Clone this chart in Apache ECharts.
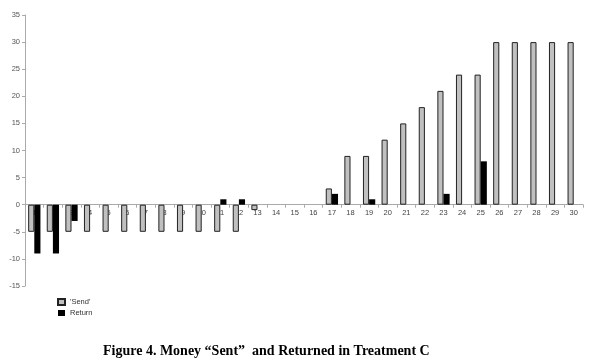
<!DOCTYPE html>
<html><head><meta charset="utf-8">
<script src="https://cdn.jsdelivr.net/npm/echarts@6/dist/echarts.min.js"></script>
<style>html,body{margin:0;padding:0;background:#fff}#c{width:597px;height:363px}</style>
</head><body><div id="c"></div>
<script>
const categories = ['1','2','3','4','5','6','7','8','9','10','11','12','13','14','15','16','17','18','19','20','21','22','23','24','25','26','27','28','29','30'];
const sendValues = [-5,-5,-5,-5,-5,-5,-5,-5,-5,-5,-5,-5,-1,0,0,0,3,9,9,12,15,18,21,24,24,30,30,30,30,30];
const returnValues = [-9,-9,-3,0,0,0,0,0,0,0,1,1,0,0,0,0,2,0,1,0,0,0,2,0,8,0,0,0,0,0];
const yTicks = {min:-15, max:35, interval:5};
const titleText = 'Figure 4. Money \u201cSent\u201d  and Returned in Treatment C';

const gridTop = 15, gridBottom = 77, H = 363;
const plotH = H - gridTop - gridBottom;
const zeroOffset = -plotH * (0 - yTicks.min) / (yTicks.max - yTicks.min);

const chart = echarts.init(document.getElementById('c'));
chart.setOption({
  animation:false,
  backgroundColor:'#fff',
  title:{text:titleText, left:98, top:339, textStyle:{fontFamily:'Liberation Serif', fontWeight:'bold', fontSize:14, color:'#000'}},
  legend:{orient:'vertical', left:52, top:293, itemWidth:7, itemHeight:6, itemGap:3, icon:'rect',
    textStyle:{fontFamily:'Liberation Sans', fontSize:7.5, color:'#333'},
    data:['\'Send\'','Return']},
  grid:{left:25, right:14, top:gridTop, bottom:gridBottom},
  xAxis:{type:'category', data:categories, offset:zeroOffset,
    axisLine:{onZero:false, lineStyle:{color:'#aaa'}},
    axisTick:{show:true, alignWithLabel:false, length:3, lineStyle:{color:'#aaa'}},
    axisLabel:{fontFamily:'Liberation Sans', fontSize:7.5, color:'#444', margin:4, interval:0}},
  yAxis:{type:'value', min:yTicks.min, max:yTicks.max, interval:yTicks.interval,
    splitLine:{show:false},
    axisLine:{show:true, lineStyle:{color:'#aaa'}},
    axisTick:{show:true, length:3, lineStyle:{color:'#aaa'}},
    axisLabel:{fontFamily:'Liberation Sans', fontSize:7.5, color:'#555', margin:5}},
  series:[
    {name:'\'Send\'', type:'bar', data:sendValues.map(v=>v===0?null:v), barGap:'0%', barCategoryGap:'34%', z:3,
      itemStyle:{color:'#c0c0c0', borderColor:'#222', borderWidth:1}},
    {name:'Return', type:'bar', data:returnValues.map(v=>v===0?null:v), z:3,
      itemStyle:{color:'#000', borderColor:'#000', borderWidth:0}}
  ]
});
</script></body></html>
